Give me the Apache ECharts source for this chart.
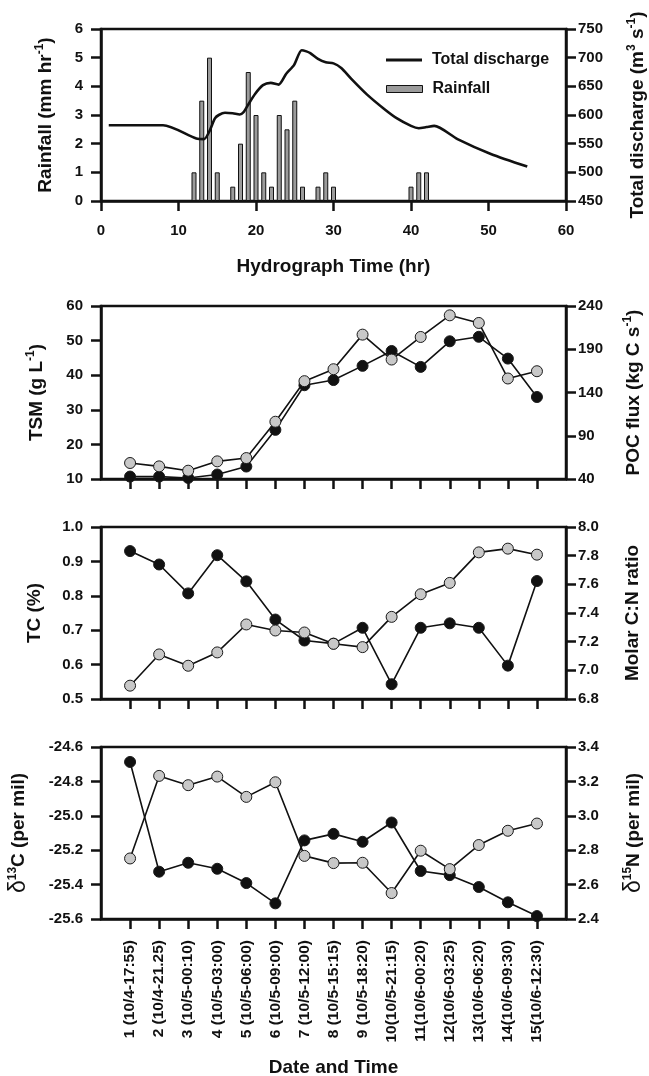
<!DOCTYPE html>
<html><head><meta charset="utf-8">
<script src="https://cdn.jsdelivr.net/npm/echarts@6/dist/echarts.min.js"></script>
<style>html,body{margin:0;padding:0;background:#fff}#c{width:649px;height:1076px}</style>
</head><body><div id="c"></div>
<script>
// ---- Panel 1: hydrograph ----
const rainHours = [12,13,14,15,17,18,19,20,21,22,23,24,25,26,28,29,30,40,41,42];
const rainValues = [1,3.5,5,1,0.5,2,4.5,3,1,0.5,3,2.5,3.5,0.5,0.5,1,0.5,0.5,1,1];
const dischargeHours = [1,8,12.3,13.3,14,14.7,15.2,16,17,17.9,18.4,18.9,19.9,20.9,21.9,22.9,23.9,24.9,25.9,26.5,27,28,29,30,31,32.3,34.3,36.5,38.2,40,41,42,43,46,50.3,55];
const dischargeValues = [582,582,559,558,572,594,600,604,603,601,605,616,637,652,656,653,672,687,713,711,708,698,692,690,682,663,636,611,594,581,577,579,581,558,532,510];
const rainTicks = [0,1,2,3,4,5,6];
const dischargeTicks = [450,500,550,600,650,700,750];

// ---- Panels 2-4: samples ----
const sampleIds = [1,2,3,4,5,6,7,8,9,10,11,12,13,14,15];
const sampleLabels = ['1 (10/4-17:55)','2 (10/4-21.25)','3 (10/5-00:10)','4 (10/5-03:00)','5 (10/5-06:00)','6 (10/5-09:00)','7 (10/5-12:00)','8 (10/5-15:15)','9 (10/5-18:20)','10(10/5-21:15)','11(10/6-00:20)','12(10/6-03:25)','13(10/6-06:20)','14(10/6-09:30)','15(10/6-12:30)'];
const tsm = [10.7,10.7,10.3,11.3,13.6,24.2,37.1,38.6,42.7,47.0,42.4,49.8,51.1,44.8,33.7];
const pocFlux = [58.5,54.6,49.6,60.4,64.2,106.2,153.1,166.9,206.9,178.1,204.2,229.2,220.4,156.2,164.6];
const tc = [0.930,0.891,0.807,0.918,0.842,0.731,0.670,0.661,0.707,0.543,0.707,0.720,0.707,0.597,0.843];
const cnRatio = [6.893,7.111,7.032,7.125,7.320,7.278,7.264,7.185,7.162,7.373,7.531,7.610,7.823,7.849,7.807];
const d13C = [-24.687,-25.325,-25.273,-25.308,-25.391,-25.509,-25.143,-25.105,-25.151,-25.039,-25.321,-25.345,-25.414,-25.503,-25.583];
const d15N = [2.752,3.232,3.178,3.228,3.110,3.195,2.767,2.725,2.727,2.551,2.797,2.690,2.830,2.913,2.955];
const tsmTicks = [10,20,30,40,50,60];
const pocTicks = [40,90,140,190,240];
const tcTicks = [0.5,0.6,0.7,0.8,0.9,1.0];
const cnTicks = [6.8,7.0,7.2,7.4,7.6,7.8,8.0];
const d13CTicks = [-25.6,-25.4,-25.2,-25.0,-24.8,-24.6];
const d15NTicks = [2.4,2.6,2.8,3.0,3.2,3.4];

const FONT = '"Liberation Sans", Arial, sans-serif';
const INK = '#111';
const LW = 2.5;
const TICKFS = 15;

const rich = {
  a: {fontSize: 19, fontWeight: 'bold', fontFamily: FONT, color: INK, lineHeight: 24},
  s: {fontSize: 12, fontWeight: 'bold', fontFamily: FONT, color: INK, lineHeight: 12, verticalAlign: 'top'},
  d: {fontSize: 23, fontWeight: 'normal', fontFamily: FONT, color: INK, lineHeight: 24}
};

const grids = [
  {left: 101, right: 83, top: 29, height: 172},
  {left: 101, right: 83, top: 306, height: 173},
  {left: 101, right: 83, top: 527, height: 172},
  {left: 101, right: 83, top: 747, height: 172}
].map(g => Object.assign(g, {show: true, borderColor: INK, borderWidth: LW, containLabel: false, outerBoundsMode: 'none'}));

function yAx(gi, pos, min, max, ticks, dec, name, gap, margin) {
  return {
    type: 'value', gridIndex: gi, position: pos, min: min, max: max,
    axisLine: {show: true, lineStyle: {color: INK, width: LW}},
    axisTick: {show: true, length: 10, lineStyle: {color: INK, width: LW}, customValues: ticks},
    axisLabel: {customValues: ticks, margin: margin, color: INK, fontSize: TICKFS, fontWeight: 'bold', fontFamily: FONT,
      formatter: v => dec ? Number(v).toFixed(dec) : String(v)},
    splitLine: {show: false},
    name: name, nameLocation: 'middle', nameGap: gap, nameRotate: 90,
    nameTextStyle: {rich: rich}
  };
}

function xCat(gi, withLabels) {
  return {
    type: 'value', gridIndex: gi, min: 0, max: 16,
    axisLine: {show: true, lineStyle: {color: INK, width: LW}},
    axisTick: {show: true, length: 10, lineStyle: {color: INK, width: LW}, customValues: sampleIds},
    axisLabel: withLabels ? {customValues: sampleIds, rotate: 90, margin: 21, color: INK, fontSize: 15.5, fontWeight: 'bold', fontFamily: FONT,
      formatter: v => sampleLabels[v - 1]} : {show: false},
    splitLine: {show: false},
    name: withLabels ? 'Date and Time' : '', nameLocation: 'middle', nameGap: 139,
    nameTextStyle: {fontSize: 19, fontWeight: 'bold', fontFamily: FONT, color: INK}
  };
}

const pair = (ys) => ys.map((v, i) => [sampleIds[i], v]);

function ptSeries(xi, yi, data, fill) {
  return {
    type: 'line', xAxisIndex: xi, yAxisIndex: yi, data: pair(data),
    symbol: 'circle', symbolSize: 11,
    lineStyle: {color: INK, width: 1.6},
    itemStyle: {color: fill, borderColor: '#1a1a1a', borderWidth: 1},
    emphasis: {disabled: true}, animation: false, z: 3
  };
}

const option = {
  backgroundColor: '#fff',
  animation: false,
  grid: grids,
  legend: [
    {data: ['Total discharge'], left: 386, top: 52, padding: 0, icon: 'rect', itemWidth: 36, itemHeight: 3, selectedMode: false,
     textStyle: {fontSize: 16, fontWeight: 'bold', fontFamily: FONT, color: INK, padding: [0,0,0,5]}},
    {data: ['Rainfall'], left: 386, top: 81, padding: 0, icon: 'rect', itemWidth: 36, itemHeight: 7, selectedMode: false,
     itemStyle: {borderColor: INK, borderWidth: 1},
     textStyle: {fontSize: 16, fontWeight: 'bold', fontFamily: FONT, color: INK, padding: [0,0,0,5]}}
  ],
  xAxis: [
    {type: 'value', gridIndex: 0, min: 0, max: 60, interval: 10,
     axisLine: {show: true, lineStyle: {color: INK, width: LW}},
     axisTick: {show: true, length: 10, lineStyle: {color: INK, width: LW}},
     axisLabel: {margin: 22, color: INK, fontSize: TICKFS, fontWeight: 'bold', fontFamily: FONT},
     splitLine: {show: false},
     name: 'Hydrograph Time (hr)', nameLocation: 'middle', nameGap: 56,
     nameTextStyle: {fontSize: 19, fontWeight: 'bold', fontFamily: FONT, color: INK}},
    xCat(1, false), xCat(2, false), xCat(3, true)
  ],
  yAxis: [
    yAx(0, 'left', 0, 6, rainTicks, 0, '{a|Rainfall (mm hr}{s|-1}{a|)}', 43, 18),
    yAx(0, 'right', 450, 750, dischargeTicks, 0, '{a|Total discharge (m}{s|3}{a| s}{s|-1}{a|)}', 60, 12),
    yAx(1, 'left', 10, 60, tsmTicks, 0, '{a|TSM (g L}{s|-1}{a|)}', 52, 18),
    yAx(1, 'right', 40, 240, pocTicks, 0, '{a|POC flux (kg C s}{s|-1}{a|)}', 56, 12),
    yAx(2, 'left', 0.5, 1.0, tcTicks, 1, '{a|TC (%)}', 54, 18),
    yAx(2, 'right', 6.8, 8.0, cnTicks, 1, '{a|Molar C:N ratio}', 55, 12),
    yAx(3, 'left', -25.6, -24.6, d13CTicks, 1, '{d|δ}{s|13}{a|C (per mil)}', 70, 18),
    yAx(3, 'right', 2.4, 3.4, d15NTicks, 1, '{d|δ}{s|15}{a|N (per mil)}', 56, 12)
  ],
  series: [
    {name: 'Rainfall', type: 'bar', xAxisIndex: 0, yAxisIndex: 0, data: rainHours.map((h, i) => [h, rainValues[i]]),
     barWidth: 5, itemStyle: {color: '#9b9b9b', borderColor: INK, borderWidth: 1}, emphasis: {disabled: true}},
    {name: 'Total discharge', type: 'line', xAxisIndex: 0, yAxisIndex: 1,
     data: dischargeHours.map((h, i) => [h, dischargeValues[i]]),
     symbol: 'none', smooth: 0.25, lineStyle: {color: INK, width: 2.6}, itemStyle: {color: INK}, z: 4, emphasis: {disabled: true}},
    ptSeries(1, 2, tsm, '#111'),
    ptSeries(1, 3, pocFlux, '#c8c8c8'),
    ptSeries(2, 4, tc, '#111'),
    ptSeries(2, 5, cnRatio, '#c8c8c8'),
    ptSeries(3, 6, d13C, '#111'),
    ptSeries(3, 7, d15N, '#c8c8c8')
  ]
};

const chart = echarts.init(document.getElementById('c'), null, {renderer: 'canvas'});
chart.setOption(option);
</script>
</body></html>
